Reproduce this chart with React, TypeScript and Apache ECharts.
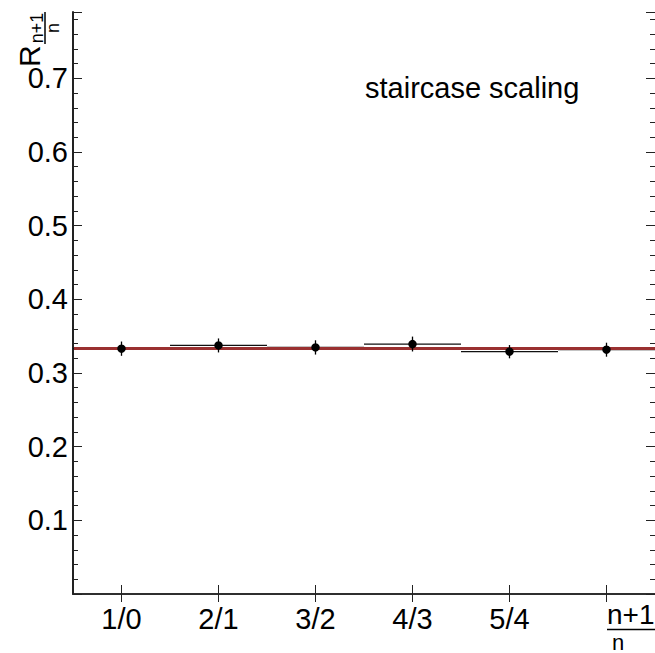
import React, { useEffect, useRef } from "react";
import * as echarts from "echarts";

const categories = ["1/0", "2/1", "3/2", "4/3", "5/4", "n+1/n"];
const ratios = [0.333, 0.3374, 0.3347, 0.3393, 0.3289, 0.3316];
const errors = [0.0097, 0.0095, 0.0097, 0.0101, 0.009, 0.0095];
const fitValue = 1 / 3;
const yMin = 0;
const yMax = 0.79;
const yInterval = 0.1;
const annotation = "staircase scaling";

const FONT = "'Liberation Sans', Arial, Helvetica, sans-serif";
const AXIS_COLOR = "#222";

export default function App() {
  const ref = useRef<HTMLDivElement>(null);

  useEffect(() => {
    if (!ref.current) return;
    const chart = echarts.init(ref.current, null, { renderer: "svg" });
    const data = categories.map((c, i) => [i, ratios[i], errors[i]]);

    const yLabelFmt = (v: number) => {
      const k = v / yInterval;
      if (Math.abs(k - Math.round(k)) < 1e-6 && v > 0.05 && v < 0.75) return v.toFixed(1);
      return "";
    };

    const option: any = {
      animation: false,
      backgroundColor: "#fff",
      grid: { left: 73, top: 12, width: 582, bottom: 59, containLabel: false },
      xAxis: [
        {
          type: "category",
          data: categories,
          position: "bottom",
          boundaryGap: true,
          axisLine: { show: true, lineStyle: { color: AXIS_COLOR, width: 1.5 } },
          axisTick: { show: true, inside: true, alignWithLabel: true, length: 9, lineStyle: { color: AXIS_COLOR, width: 1 } },
          axisLabel: {
            show: true,
            margin: 10,
            fontSize: 29,
            fontFamily: FONT,
            color: "#000",
            formatter: (v: string, i: number) => (i === categories.length - 1 ? "" : v),
          },
          splitLine: { show: false },
        },
        {
          type: "category",
          data: categories,
          position: "top",
          boundaryGap: true,
          axisLine: { show: true, lineStyle: { color: AXIS_COLOR, width: 1.5 } },
          axisTick: { show: true, inside: true, alignWithLabel: true, length: 8, lineStyle: { color: AXIS_COLOR, width: 1 } },
          axisLabel: { show: false },
          splitLine: { show: false },
        },
      ],
      yAxis: [
        {
          type: "value",
          min: yMin,
          max: yMax,
          interval: yInterval,
          position: "left",
          axisLine: { show: true, lineStyle: { color: AXIS_COLOR, width: 2 } },
          axisTick: { show: true, inside: true, length: 9, lineStyle: { color: AXIS_COLOR, width: 1 } },
          minorTick: { show: true, splitNumber: 5, length: 5, lineStyle: { color: AXIS_COLOR, width: 1 } },
          axisLabel: { show: true, margin: 5, fontSize: 29, fontFamily: FONT, color: "#000", formatter: yLabelFmt },
          splitLine: { show: false },
          minorSplitLine: { show: false },
        },
        {
          type: "value",
          min: yMin,
          max: yMax,
          interval: yInterval,
          position: "right",
          axisLine: { show: false },
          axisTick: { show: true, inside: true, length: 9, lineStyle: { color: AXIS_COLOR, width: 1 } },
          minorTick: { show: true, splitNumber: 5, length: 5, lineStyle: { color: AXIS_COLOR, width: 1 } },
          axisLabel: { show: false },
          splitLine: { show: false },
        },
      ],
      series: [
        {
          type: "custom",
          name: "bins",
          xAxisIndex: 0,
          yAxisIndex: 0,
          z: 1,
          data,
          renderItem: (params: any, api: any) => {
            const i = api.value(0);
            const v = api.value(1);
            const c = api.coord([i, v]);
            const w = api.size([1, 0])[0];
            return {
              type: "line",
              shape: { x1: c[0] - w / 2, y1: c[1], x2: c[0] + w / 2, y2: c[1] },
              style: { stroke: "#111", lineWidth: 1.3 },
            };
          },
        },
        {
          type: "custom",
          name: "fit",
          xAxisIndex: 0,
          yAxisIndex: 0,
          z: 2,
          data: [[0, fitValue]],
          renderItem: (params: any, api: any) => {
            const y = api.coord([0, api.value(1)])[1];
            const cs = params.coordSys;
            return {
              type: "line",
              shape: { x1: cs.x + 1, y1: y, x2: cs.x + cs.width, y2: y },
              style: { stroke: "#9a3030", lineWidth: 3 },
            };
          },
        },
        {
          type: "custom",
          name: "points",
          xAxisIndex: 0,
          yAxisIndex: 0,
          z: 3,
          data,
          renderItem: (params: any, api: any) => {
            const i = api.value(0);
            const v = api.value(1);
            const e = api.value(2);
            const c = api.coord([i, v]);
            const lo = api.coord([i, v - e]);
            const hi = api.coord([i, v + e]);
            return {
              type: "group",
              children: [
                {
                  type: "line",
                  shape: { x1: c[0], y1: lo[1], x2: c[0], y2: hi[1] },
                  style: { stroke: "#000", lineWidth: 1.3 },
                },
                {
                  type: "circle",
                  shape: { cx: c[0], cy: c[1], r: 4.2 },
                  style: { fill: "#000" },
                },
              ],
            };
          },
        },
      ],
      graphic: [
        {
          type: "text",
          left: 365,
          top: 73,
          style: { text: annotation, fontSize: 29, fontFamily: FONT, fill: "#000" },
        },
        // y axis title R_{(n+1)/n}, rotated
        {
          type: "text",
          x: 29,
          y: 67,
          rotation: Math.PI / 2,
          style: { text: "R", fontSize: 30, fontFamily: FONT, fill: "#000", align: "left", verticalAlign: "middle" },
        },
        {
          type: "text",
          x: 37,
          y: 28,
          rotation: Math.PI / 2,
          style: { text: "n+1", fontSize: 18, fontFamily: FONT, fill: "#000", align: "center", verticalAlign: "middle" },
        },
        {
          type: "line",
          shape: { x1: 45, y1: 12, x2: 45, y2: 44 },
          style: { stroke: "#000", lineWidth: 1.5 },
        },
        {
          type: "text",
          x: 53,
          y: 28,
          rotation: Math.PI / 2,
          style: { text: "n", fontSize: 18, fontFamily: FONT, fill: "#000", align: "center", verticalAlign: "middle" },
        },
        // last x tick label (n+1)/n
        {
          type: "text",
          x: 607,
          y: 628,
          style: { text: "n+1", fontSize: 28, fontFamily: FONT, fill: "#000", align: "left", verticalAlign: "bottom" },
        },
        {
          type: "line",
          shape: { x1: 607, y1: 629.5, x2: 660, y2: 629.5 },
          style: { stroke: "#000", lineWidth: 1.5 },
        },
        {
          type: "text",
          x: 612,
          y: 631,
          style: { text: "n", fontSize: 22, fontFamily: FONT, fill: "#000", align: "left", verticalAlign: "top" },
        },
      ],
    };

    chart.setOption(option);
    return () => chart.dispose();
  }, []);

  return (
    <div
      ref={ref}
      style={{ position: "fixed", left: 0, top: 0, width: 655, height: 653, background: "#fff" }}
    />
  );
}
